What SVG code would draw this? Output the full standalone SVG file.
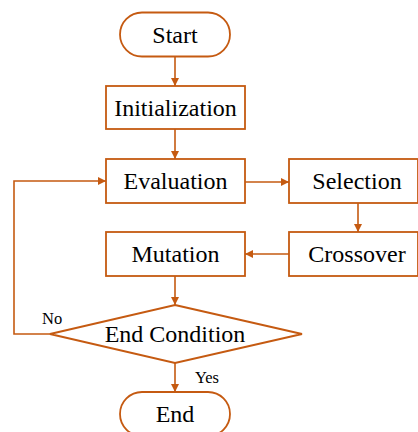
<svg xmlns="http://www.w3.org/2000/svg" width="418" height="432" viewBox="0 0 418 432">
<style>
.n{fill:#fff;stroke:#C55A11;stroke-width:1.8}
.t{font-family:"Liberation Serif","Times New Roman",serif;font-size:24px;fill:#000;text-anchor:middle}
.s{font-family:"Liberation Serif","Times New Roman",serif;font-size:16.5px;fill:#000}
.c{fill:none;stroke:#C55A11;stroke-width:1.6}
</style>
<defs>
<marker id="a" viewBox="0 0 10 10" refX="10" refY="5" markerWidth="9" markerHeight="8" markerUnits="userSpaceOnUse" orient="auto">
<path d="M0,0 L10,5 L0,10 z" fill="#C55A11"/>
</marker>
</defs>
<rect width="418" height="432" fill="#fff"/>
<g id="connectors">
<path class="c" d="M175,57 V86" marker-end="url(#a)"/>
<path class="c" d="M175,129 V159" marker-end="url(#a)"/>
<path class="c" d="M245,182 H289" marker-end="url(#a)"/>
<path class="c" d="M358,203 V232" marker-end="url(#a)"/>
<path class="c" d="M289,254 H245" marker-end="url(#a)"/>
<path class="c" d="M175,276 V305" marker-end="url(#a)"/>
<path class="c" d="M175,363 V392" marker-end="url(#a)"/>
<path class="c" d="M50,334 H14 V181 H106" marker-end="url(#a)"/>
<text class="s" x="42" y="324">No</text>
<text class="s" x="195" y="383">Yes</text>
</g>
<g id="start">
<rect class="n" x="120" y="12.5" width="110" height="44" rx="22"/>
<text class="t" x="175" y="42.5">Start</text>
</g>
<g id="init">
<rect class="n" x="106" y="86" width="139" height="43"/>
<text class="t" x="175.5" y="115.5">Initialization</text>
</g>
<g id="eval">
<rect class="n" x="106" y="159" width="139" height="44"/>
<text class="t" x="175.5" y="189">Evaluation</text>
</g>
<g id="sel">
<rect class="n" x="289" y="159" width="129" height="44"/>
<text class="t" x="357" y="189">Selection</text>
</g>
<g id="cross">
<rect class="n" x="289" y="232" width="129" height="44"/>
<text class="t" x="357" y="262">Crossover</text>
</g>
<g id="mut">
<rect class="n" x="106" y="232" width="139" height="44"/>
<text class="t" x="175.5" y="262">Mutation</text>
</g>
<g id="cond">
<polygon class="n" points="175,305 302,334 175,363 50,334"/>
<text class="t" x="175" y="342">End Condition</text>
</g>
<g id="end">
<rect class="n" x="120" y="392" width="110" height="44" rx="22"/>
<text class="t" x="175" y="422">End</text>
</g>
</svg>
